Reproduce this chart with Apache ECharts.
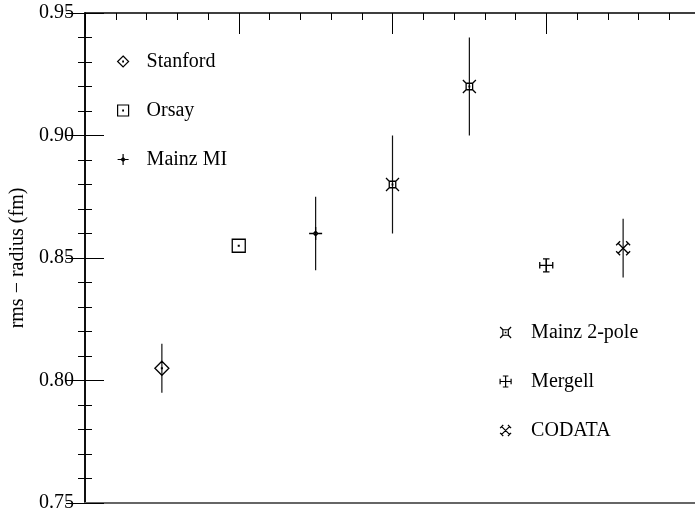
<!DOCTYPE html>
<html>
<head>
<meta charset="utf-8">
<script src="https://cdn.jsdelivr.net/npm/echarts@6/dist/echarts.min.js"></script>
<style>html,body{margin:0;padding:0;background:#fff}#c{width:695px;height:517px}</style>
</head>
<body>
<div id="c"></div>
<script>
// ---- data ----
const seriesNames = ['Stanford', 'Orsay', 'Mainz MI', 'Mainz 2-pole', 'Mergell', 'CODATA'];
const stanfordX = [0.5],  stanfordY = [0.805],  stanfordErr = [0.010];
const orsayX = [1.0],     orsayY = [0.855],     orsayErr = [0.0];
const mainzMIX = [1.5],   mainzMIY = [0.860],   mainzMIErr = [0.015];
const mainz2X = [2.0, 2.5], mainz2Y = [0.880, 0.920], mainz2Err = [0.020, 0.020];
const mergellX = [3.0],   mergellY = [0.847],   mergellErr = [0.0025];
const codataX = [3.5],    codataY = [0.854],    codataErr = [0.012];
const yTicks = [0.75, 0.80, 0.85, 0.90, 0.95];

const xs = [stanfordX, orsayX, mainzMIX, mainz2X, mergellX, codataX];
const ys = [stanfordY, orsayY, mainzMIY, mainz2Y, mergellY, codataY];
const es = [stanfordErr, orsayErr, mainzMIErr, mainz2Err, mergellErr, codataErr];

// marker shapes (styling)
const shapes = [
  'path://M7 0 L14 7 L7 14 L0 7 Z M6.6 6.6 L7.4 6.6 L7.4 7.4 L6.6 7.4 Z',
  'path://M0 0 L14 0 L14 14 L0 14 Z M6.6 6.6 L7.4 6.6 L7.4 7.4 L6.6 7.4 Z',
  'path://M7 0 L7 4.6 M7 9.4 L7 14 M0 7 L4.6 7 M9.4 7 L14 7 M7 4.6 L9.4 7 L7 9.4 L4.6 7 Z M6.7 6.7 L7.3 6.7 L7.3 7.3 L6.7 7.3 Z',
  'path://M3.5 3.5 L10.5 3.5 L10.5 10.5 L3.5 10.5 Z M3.5 3.5 L0 0 M10.5 3.5 L14 0 M10.5 10.5 L14 14 M3.5 10.5 L0 14 M6.7 6.7 L7.3 6.7 L7.3 7.3 L6.7 7.3 Z',
  'path://M0 7 L14 7 M7 0 L7 14 M0 3.5 L0 10.5 M14 3.5 L14 10.5 M3.5 0 L10.5 0 M3.5 14 L10.5 14',
  'path://M2 2 L12 12 M12 2 L2 12 M0 4 L4 0 M10 0 L14 4 M14 10 L10 14 M4 14 L0 10'
];
const sizes = [14, 13, 13, 13, 13, 14];

const FONT = 'Liberation Serif';

const scatterSeries = seriesNames.map((n, i) => ({
  name: n,
  type: 'scatter',
  symbol: shapes[i],
  symbolSize: sizes[i],
  z: 5,
  itemStyle: { color: 'transparent', borderColor: '#000', borderWidth: 1.3, opacity: 1 },
  data: xs[i].map((x, k) => [x, ys[i][k]])
}));

const errData = [];
xs.forEach((arr, i) => arr.forEach((x, k) => errData.push([x, ys[i][k], es[i][k]])));

const errSeries = {
  type: 'custom',
  z: 2,
  silent: true,
  encode: { x: 0, y: 1 },
  renderItem: function (params, api) {
    const x = api.value(0), y = api.value(1), e = api.value(2);
    const p1 = api.coord([x, y + e]);
    const p2 = api.coord([x, y - e]);
    return { type: 'line', shape: { x1: p1[0], y1: p1[1], x2: p2[0], y2: p2[1] },
             style: { stroke: '#111', lineWidth: 1.2 } };
  },
  data: errData
};

function legendItems(from, to) {
  return seriesNames.slice(from, to).map((n, j) => {
    const i = from + j;
    return { name: n, icon: shapes[i],
             itemStyle: { color: 'transparent', borderColor: '#000', borderWidth: 1.2 } };
  });
}

const legendCommon = {
  orient: 'vertical',
  padding: 0,
  itemWidth: 11,
  itemHeight: 11,
  itemGap: 29,
  selectedMode: false,
  textStyle: { fontFamily: FONT, fontSize: 20, color: '#000', lineHeight: 20 }
};

const option = {
  animation: false,
  backgroundColor: '#fff',
  grid: { left: 85, right: -5, top: 13, bottom: 14, containLabel: false, outerBoundsMode: 'none' },
  legend: [
    Object.assign({}, legendCommon, { left: 117, top: 51.5, data: legendItems(0, 3),
      textStyle: Object.assign({}, legendCommon.textStyle, { padding: [0, 0, 0, 13] }) }),
    Object.assign({}, legendCommon, { left: 499.5, top: 322.5, data: legendItems(3, 6),
      textStyle: Object.assign({}, legendCommon.textStyle, { padding: [0, 0, 0, 15] }) })
  ],
  xAxis: [
    { type: 'value', position: 'bottom', min: 0, max: 4, interval: 1,
      axisLine: { show: true, lineStyle: { color: '#666', width: 2 } },
      axisTick: { show: false }, axisLabel: { show: false }, splitLine: { show: false } },
    { type: 'value', position: 'top', min: 0, max: 4, interval: 1,
      axisLine: { show: true, lineStyle: { color: '#000', width: 1.5 } },
      axisTick: { show: true, inside: true, length: 21, lineStyle: { color: '#000', width: 1 } },
      minorTick: { show: true, splitNumber: 5, length: 7, lineStyle: { color: '#000', width: 1 } },
      axisLabel: { show: false }, splitLine: { show: false } }
  ],
  yAxis: [
    { type: 'value', position: 'left', min: yTicks[0], max: yTicks[yTicks.length - 1], interval: 0.05,
      name: 'rms \u2212 radius (fm)', nameLocation: 'middle', nameRotate: 90, nameGap: 57,
      nameTextStyle: { fontFamily: FONT, fontSize: 20, color: '#000' },
      axisLine: { show: true, lineStyle: { color: '#000', width: 1.5 } },
      axisTick: { show: true, inside: true, length: 19, lineStyle: { color: '#000', width: 1 } },
      minorTick: { show: true, splitNumber: 5, length: 7, lineStyle: { color: '#000', width: 1 } },
      axisLabel: { show: true, margin: 11, fontFamily: FONT, fontSize: 20, color: '#000',
                   formatter: v => v.toFixed(2) },
      splitLine: { show: false } },
    { type: 'value', position: 'right', min: yTicks[0], max: yTicks[yTicks.length - 1], interval: 0.05,
      axisLine: { show: true, lineStyle: { color: '#000', width: 1.5 } },
      axisTick: { show: true, inside: true, length: 19, lineStyle: { color: '#000', width: 1 } },
      minorTick: { show: true, splitNumber: 5, length: 7, lineStyle: { color: '#000', width: 1 } },
      axisLabel: { show: false }, splitLine: { show: false } }
  ],
  series: [errSeries].concat(scatterSeries)
};

const chart = echarts.init(document.getElementById('c'), null, { renderer: 'canvas' });
chart.setOption(option);
</script>
</body>
</html>
